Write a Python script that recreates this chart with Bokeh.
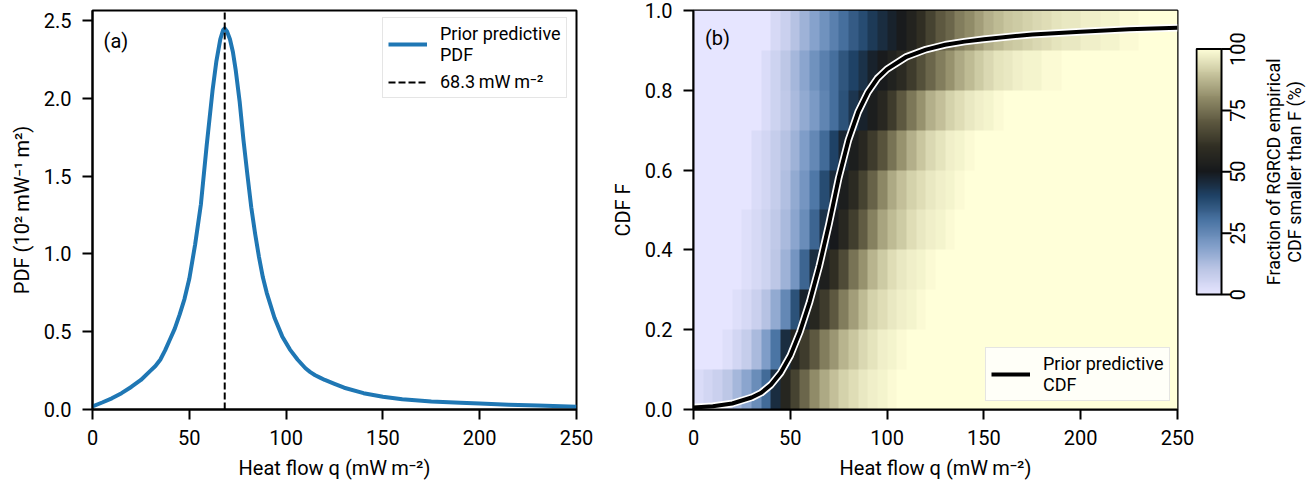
import math
import numpy as np
from bokeh.plotting import figure
from bokeh.layouts import row
from bokeh.models import (Range1d, FixedTicker, PrintfTickFormatter, Legend, LegendItem,
                          LinearColorMapper, Label)
from bokeh.embed import file_html
from bokeh.resources import INLINE
from bokeh.core.properties import value

# ---------------- data ----------------
pdf_q = [0, 5, 10, 15, 20, 25, 30, 32.5, 35, 37.5, 40, 42.5, 45, 47.5, 50, 53, 56, 59, 62,
         64, 66, 67.5, 68.3, 69.5, 71, 72.5, 74, 76, 78, 80, 82, 84, 86, 88, 90, 94, 98,
         102, 106, 110, 112.5, 115, 117.5, 120, 125, 130, 140, 150, 160, 175, 190, 200,
         215, 230, 250]
pdf_vals = [0.02, 0.045, 0.072, 0.105, 0.145, 0.19, 0.25, 0.28, 0.32, 0.38, 0.45, 0.52,
            0.61, 0.71, 0.84, 1.06, 1.32, 1.70, 2.05,
            2.24, 2.38, 2.44, 2.45, 2.43, 2.38, 2.30, 2.18, 1.98, 1.73, 1.51, 1.30, 1.13,
            0.98, 0.85, 0.75, 0.59, 0.47,
            0.385, 0.32, 0.265, 0.24, 0.22, 0.205, 0.19, 0.165, 0.14, 0.105, 0.082, 0.066,
            0.052, 0.043, 0.038, 0.031, 0.025, 0.018]
mode_q = 68.3

cdf_q = [0, 10, 20, 30, 35, 40, 45, 50, 55, 60, 65, 70, 75, 80, 85, 90, 95, 100, 110,
         120, 130, 140, 150, 175, 200, 225, 250]
cdf_vals = [0.005, 0.008, 0.015, 0.03, 0.042, 0.062, 0.092, 0.135, 0.195, 0.27, 0.36,
            0.465, 0.58, 0.675, 0.745, 0.795, 0.83, 0.853, 0.884, 0.902, 0.914, 0.922,
            0.928, 0.94, 0.947, 0.953, 0.957]

f_bin_count = 10
q_bin_width = 5
q_max = 250
row_start_q = [0, 15, 20, 25, 25, 30, 30, 35, 35, 40]
frac_row_0 = [3, 5, 7, 10, 14, 18, 24, 32, 45, 56, 65, 73, 80, 85, 89, 92, 94, 96, 97, 98, 99]
frac_row_1 = [2, 5, 8, 13, 20, 30, 45, 55, 63, 70, 77, 82, 87, 90, 93, 95, 97, 98, 99]
frac_row_2 = [2, 4, 7, 11, 17, 25, 37, 48, 56, 63, 70, 77, 83, 88, 92, 94, 96, 97, 98, 99]
frac_row_3 = [2, 4, 6, 10, 15, 22, 33, 45, 53, 60, 67, 75, 81, 87, 91, 94, 96, 97, 98, 99]
frac_row_4 = [2, 4, 6, 9, 13, 18, 24, 33, 44, 50, 57, 64, 71, 78, 84, 88, 91, 94, 96, 97,
              98, 99]
frac_row_5 = [3, 5, 8, 12, 17, 22, 29, 38, 46, 52, 58, 65, 72, 79, 85, 89, 92, 94, 96, 97,
              98, 99]
frac_row_6 = [3, 5, 8, 11, 15, 20, 25, 32, 40, 47, 52, 57, 63, 69, 75, 81, 86, 90, 93, 95,
              97, 98, 99]
frac_row_7 = [3, 6, 9, 13, 17, 21, 26, 31, 37, 43, 48, 52, 57, 63, 70, 76, 81, 86, 89, 92,
              94, 96, 97, 98, 99]
frac_row_8 = [3, 6, 10, 14, 18, 23, 27, 31, 36, 40, 44, 48, 51, 54, 58, 63, 68, 73, 77, 81,
              85, 88, 91, 93, 95, 96, 97, 98, 98, 99, 99]
frac_row_9 = [4, 7, 11, 15, 19, 23, 27, 31, 35, 38, 42, 45, 48, 51, 55, 60, 65, 70, 73, 77,
              80, 83, 86, 88, 90, 91, 92, 93, 94, 95, 96, 96, 97, 97, 98, 98, 99, 99]
frac_rows = [frac_row_0, frac_row_1, frac_row_2, frac_row_3, frac_row_4,
             frac_row_5, frac_row_6, frac_row_7, frac_row_8, frac_row_9]

x_ticks = [0, 50, 100, 150, 200, 250]
pdf_ticks = [0.0, 0.5, 1.0, 1.5, 2.0, 2.5]
cdf_ticks = [0.0, 0.2, 0.4, 0.6, 0.8, 1.0]
cbar_ticks = [0, 25, 50, 75, 100]

# ---------------- build grid ----------------
n_cols = q_max // q_bin_width
grid = np.full((f_bin_count, n_cols), 100.0)
for i, (start, vals) in enumerate(zip(row_start_q, frac_rows)):
    c0 = start // q_bin_width
    grid[i, :c0] = 0.0
    grid[i, c0:c0 + len(vals)] = vals

# ---------------- colour map (lisbon-like) ----------------
anchors = [(0.0, "#e6e5ff"), (0.1, "#bcc6e6"), (0.2, "#7f9dc8"), (0.3, "#4a74a3"),
           (0.4, "#1f4266"), (0.5, "#16191c"), (0.6, "#302e23"), (0.7, "#5c573f"),
           (0.8, "#908b68"), (0.9, "#c8c59e"), (1.0, "#ffffd9")]
def _rgb(h):
    return [int(h[i:i + 2], 16) for i in (1, 3, 5)]
pos = np.array([a[0] for a in anchors])
cols = np.array([_rgb(a[1]) for a in anchors], dtype=float)
t = np.linspace(0, 1, 256)
palette = ["#%02x%02x%02x" % tuple(int(round(np.interp(tt, pos, cols[:, k]))) for k in range(3))
           for tt in t]
mapper = LinearColorMapper(palette=palette, low=0, high=100)

FONT = "Roboto"
FIG_H = 486

def style(p):
    p.outline_line_color = "black"
    p.outline_line_width = 2
    p.outline_line_alpha = 1
    p.grid.visible = False
    for ax in p.axis:
        ax.axis_line_width = 2
        ax.major_tick_line_width = 2
        ax.major_tick_out = 10
        ax.major_tick_in = 0
        ax.minor_tick_line_color = None
        ax.major_label_text_font = FONT
        ax.major_label_text_font_size = "20px"
        ax.major_label_text_color = "black"
        ax.axis_label_text_font = FONT
        ax.axis_label_text_font_size = "20px"
        ax.axis_label_text_font_style = "normal"
        ax.axis_label_text_color = "black"
    p.xaxis.major_label_standoff = 10
    p.xaxis.axis_label_standoff = 8
    p.yaxis.major_label_standoff = 11
    p.yaxis.axis_label_standoff = 7

def make_legend(items, loc):
    return Legend(items=items, location=loc, margin=0, padding=5, spacing=6,
                  glyph_width=39, glyph_height=20, label_standoff=13,
                  label_text_font=FONT, label_text_font_size="18px",
                  label_text_color="black", label_text_line_height=1.05,
                  border_line_color="#cccccc", border_line_width=1.5,
                  background_fill_alpha=0.8)

# ---------------- panel (a) ----------------
ya_top = 2.565
pa = figure(width=600, height=FIG_H, x_range=Range1d(0, q_max), y_range=Range1d(0, ya_top),
            output_backend="svg", toolbar_location=None,
            min_border_left=92, min_border_right=24, min_border_top=10, min_border_bottom=77)
style(pa)
pa.xaxis.ticker = FixedTicker(ticks=x_ticks)
pa.yaxis.ticker = FixedTicker(ticks=pdf_ticks)
pa.yaxis.formatter = PrintfTickFormatter(format="%.1f")
pa.xaxis.axis_label = "Heat flow q (mW\u2009m\u207b\u00b2)"
pa.yaxis.axis_label = "PDF (10\u00b2\u2009mW\u207b\u00b9\u2009m\u00b2)"

r_pdf = pa.line(pdf_q, pdf_vals, line_color="#1f77b4", line_width=4, line_join="round")
r_mode = pa.line([mode_q, mode_q], [0, ya_top], line_color="black", line_width=2,
                 line_dash="7 3")
pa.add_layout(Label(x=5.7, y=2.37, text="(a)", text_font=FONT, text_font_size="20px",
                    text_color="black", text_baseline="middle", text_align="left"))

pa.add_layout(make_legend(
    [LegendItem(label="Prior predictive\nPDF", renderers=[r_pdf]),
     LegendItem(label="68.3\u2009mW\u2009m\u207b\u00b2", renderers=[r_mode])],
    (290, 311)))

# ---------------- panel (b) ----------------
pb = figure(width=595, height=FIG_H, x_range=Range1d(0, q_max), y_range=Range1d(0, 1),
            output_backend="svg", toolbar_location=None,
            min_border_left=93, min_border_right=18, min_border_top=10, min_border_bottom=77)
style(pb)
pb.xaxis.ticker = FixedTicker(ticks=x_ticks)
pb.yaxis.ticker = FixedTicker(ticks=cdf_ticks)
pb.yaxis.formatter = PrintfTickFormatter(format="%.1f")
pb.xaxis.axis_label = "Heat flow q (mW\u2009m\u207b\u00b2)"
pb.yaxis.axis_label = "CDF F"

pb.image(image=[grid], x=0, y=0, dw=n_cols * q_bin_width, dh=1, color_mapper=mapper)
pb.line(cdf_q, cdf_vals, line_color="white", line_width=7.5, line_join="round")
r_cdf = pb.line(cdf_q, cdf_vals, line_color="black", line_width=4, line_join="round")
pb.add_layout(Label(x=5.9, y=0.93, text="(b)", text_font=FONT, text_font_size="20px",
                    text_color="black", text_baseline="middle", text_align="left"))
pb.add_layout(make_legend(
    [LegendItem(label="Prior predictive\nCDF", renderers=[r_cdf])], (292, 8)))

# ---------------- colour bar ----------------
pc = figure(width=115, height=FIG_H, x_range=Range1d(0, 115), y_range=Range1d(-46.82, 115.72),
            output_backend="svg", toolbar_location=None, min_border=0,
            x_axis_location=None, y_axis_location=None)
pc.outline_line_color = None
pc.grid.visible = False
grad = np.linspace(0, 100, 256).reshape(256, 1)
pc.image(image=[grad], x=1, y=0, dw=25, dh=100, color_mapper=mapper)
pc.quad(left=1, right=26, bottom=0, top=100, fill_color=None, line_color="black", line_width=2)
pc.segment(x0=[26] * len(cbar_ticks), x1=[36] * len(cbar_ticks), y0=cbar_ticks, y1=cbar_ticks,
           line_color="black", line_width=2)
pc.text(x=[42] * len(cbar_ticks), y=cbar_ticks, text=[str(v) for v in cbar_ticks],
        angle=math.pi / 2, text_align="center", text_baseline="middle",
        text_font=value(FONT), text_font_size="20px", text_color="black")
pc.text(x=[78, 99], y=[50, 50],
        text=["Fraction of RGRCD empirical", "CDF smaller than F (%)"],
        angle=math.pi / 2, text_align="center", text_baseline="middle",
        text_font=value(FONT), text_font_size="18px", text_color="black")

layout = row(pa, pb, pc, spacing=0)
open("out.html", "w").write(file_html(layout, INLINE))
